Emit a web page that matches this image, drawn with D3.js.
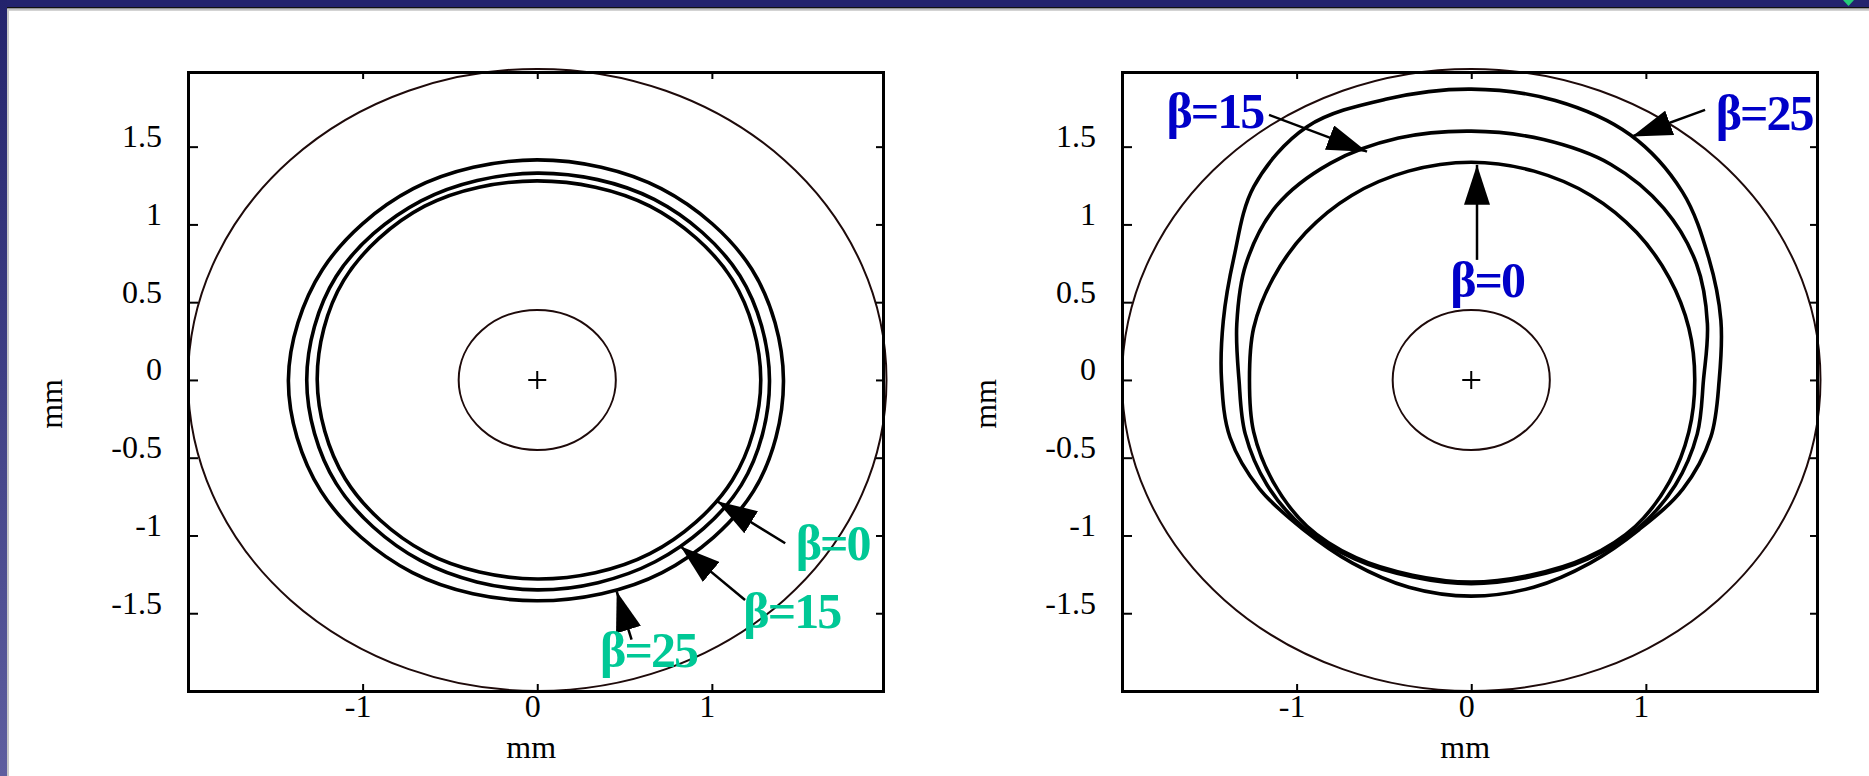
<!DOCTYPE html>
<html>
<head>
<meta charset="utf-8">
<script src="https://cdn.jsdelivr.net/npm/d3@7"></script>
<style>
  body { margin: 0; background: #fff; }
  svg { display: block; }
  .tick text { font-family: "Liberation Serif", "Times New Roman", serif; font-size: 32px; fill: #000; }
</style>
</head>
<body>
<script>
// ticks (mm)
var xTicks = [-1, 0, 1];
var xTickLabels = ["-1", "0", "1"];
var yTicks = [-1.5, -1, -0.5, 0, 0.5, 1, 1.5];
var yTickLabels = ["-1.5", "-1", "-0.5", "0", "0.5", "1", "1.5"];
var betaLabels = ["β=0", "β=15", "β=25"];

// outer aperture and central circle radius, mm
var apertureR = 2.0;
var centerR = 0.45;

// contour radius (mm), read every 30 deg from +x, counterclockwise
var leftBeta0  = [1.28, 1.29, 1.29, 1.28, 1.29, 1.28, 1.26, 1.27, 1.28, 1.28, 1.29, 1.29];
var leftBeta15 = [1.33, 1.34, 1.34, 1.33, 1.33, 1.33, 1.32, 1.33, 1.34, 1.35, 1.35, 1.35];
var leftBeta25 = [1.41, 1.42, 1.42, 1.415, 1.42, 1.42, 1.425, 1.43, 1.43, 1.42, 1.43, 1.43];

// right panel, read every 15 deg
var rightBeta0  = [1.28, 1.29, 1.31, 1.34, 1.37, 1.39, 1.40, 1.39, 1.37, 1.34, 1.31, 1.29,
                   1.27, 1.29, 1.31, 1.33, 1.32, 1.30, 1.30, 1.30, 1.32, 1.33, 1.31, 1.29];
var rightBeta15 = [1.33, 1.40, 1.49, 1.56, 1.60, 1.60, 1.60, 1.61, 1.61, 1.58, 1.49, 1.39,
                   1.33, 1.34, 1.35, 1.35, 1.33, 1.31, 1.31, 1.31, 1.33, 1.35, 1.35, 1.34];
var rightBeta25 = [1.42, 1.48, 1.57, 1.71, 1.82, 1.86, 1.87, 1.87, 1.88, 1.76, 1.57, 1.47,
                   1.43, 1.43, 1.40, 1.36, 1.36, 1.38, 1.39, 1.38, 1.36, 1.36, 1.40, 1.42];

// annotations in mm: arrow tip, arrow tail, label start (β=0, β=15, β=25)
var leftTips   = [[1.03, -0.78], [0.82, -1.07], [0.455, -1.36]];
var leftTails  = [[1.42, -1.05], [1.19, -1.415], [0.54, -1.67]];
var leftLabels = [[1.48, -1.16], [1.18, -1.595], [0.36, -1.846]];
var rightTips   = [[0.033, 1.383], [-0.597, 1.468], [0.921, 1.565]];
var rightTails  = [[0.033, 0.772], [-1.158, 1.704], [1.339, 1.736]];
var rightLabels = [[-0.12, 0.536], [-1.745, 1.621], [1.40, 1.608]];

var W = 1869, H = 776;
var svg = d3.select("body").append("svg").attr("width", W).attr("height", H);
var defs = svg.append("defs");

// slide frame
var grad = defs.append("linearGradient").attr("id", "band").attr("x1", 0).attr("y1", 0).attr("x2", 0).attr("y2", 1);
grad.append("stop").attr("offset", "0%").attr("stop-color", "#23236c");
grad.append("stop").attr("offset", "100%").attr("stop-color", "#5e5e9f");
svg.append("rect").attr("x", 0).attr("y", 0).attr("width", W).attr("height", 7).attr("fill", "#24246e");
svg.append("rect").attr("x", 0).attr("y", 0).attr("width", 7).attr("height", H).attr("fill", "url(#band)");
svg.append("line").attr("x1", 7).attr("x2", W).attr("y1", 7.8).attr("y2", 7.8).attr("stroke", "#111").attr("stroke-width", 1.6);
svg.append("line").attr("x1", 8).attr("x2", W).attr("y1", 9.8).attr("y2", 9.8).attr("stroke", "#c4c4c4").attr("stroke-width", 2);
svg.append("line").attr("x1", 8).attr("x2", 8).attr("y1", 9).attr("y2", H).attr("stroke", "#c8c8c8").attr("stroke-width", 2);
svg.append("path").attr("d", "M1843,0 L1854,0 L1848.5,6 Z").attr("fill", "#25cc78");

defs.append("marker").attr("id", "head")
    .attr("viewBox", "0 0 40 26").attr("refX", 40).attr("refY", 13)
    .attr("markerWidth", 40).attr("markerHeight", 26)
    .attr("markerUnits", "userSpaceOnUse").attr("orient", "auto")
  .append("path").attr("d", "M0,0 L40,13 L0,26 Z").attr("fill", "#000");

function drawPanel(x0, x1, rings, tips, tails, labels, color) {
    var x = d3.scaleLinear().domain([-2, 1.98]).range([x0, x1]);
    var y = d3.scaleLinear().domain([-2, 1.98]).range([691, 72]);
    var g = svg.append("g");

    g.append("ellipse")
        .attr("cx", x(0)).attr("cy", y(0))
        .attr("rx", x(apertureR) - x(0)).attr("ry", y(0) - y(apertureR))
        .attr("fill", "none").attr("stroke", "#1e0a0a").attr("stroke-width", 2);
    g.append("ellipse")
        .attr("cx", x(0)).attr("cy", y(0))
        .attr("rx", x(centerR) - x(0)).attr("ry", y(0) - y(centerR))
        .attr("fill", "none").attr("stroke", "#1e0a0a").attr("stroke-width", 2);
    g.append("path")
        .attr("d", "M" + (x(0) - 9) + "," + y(0) + "h18M" + x(0) + "," + (y(0) - 9) + "v18")
        .attr("stroke", "#000").attr("stroke-width", 2);

    var line = d3.line()
        .x(function(d) { return x(d[0]); })
        .y(function(d) { return y(d[1]); })
        .curve(d3.curveCatmullRomClosed);

    rings.forEach(function(r) {
        var pts = r.map(function(v, i) {
            var a = i * 2 * Math.PI / r.length;
            return [v * Math.cos(a), v * Math.sin(a)];
        });
        g.append("path").attr("d", line(pts))
            .attr("fill", "none").attr("stroke", "#000").attr("stroke-width", 3.6);
    });

    // axes
    var bottom = g.append("g").attr("transform", "translate(0,691)")
        .call(d3.axisBottom(x).tickValues(xTicks).tickSize(-7).tickSizeOuter(0)
            .tickFormat(function(d, i) { return xTickLabels[i]; }));
    bottom.selectAll(".tick text").attr("y", 26).attr("dy", 0).attr("dx", -5);

    var left = g.append("g").attr("transform", "translate(" + x0 + ",0)")
        .call(d3.axisLeft(y).tickValues(yTicks).tickSize(-10).tickSizeOuter(0)
            .tickFormat(function(d, i) { return yTickLabels[i]; }));
    left.selectAll(".tick text").attr("x", -26).attr("dy", 0);

    var top = g.append("g").attr("transform", "translate(0,72)")
        .call(d3.axisTop(x).tickValues(xTicks).tickSize(-7).tickSizeOuter(0).tickFormat(""));
    var right = g.append("g").attr("transform", "translate(" + x1 + ",0)")
        .call(d3.axisRight(y).tickValues(yTicks).tickSize(-7).tickSizeOuter(0).tickFormat(""));

    [bottom, left, top, right].forEach(function(a) {
        a.select(".domain").attr("stroke", "#000").attr("stroke-width", 3).attr("stroke-linecap", "square");
        a.selectAll(".tick line").attr("stroke", "#000").attr("stroke-width", 2);
    });

    g.append("text").attr("x", x(0) - 6).attr("y", 758)
        .attr("text-anchor", "middle")
        .attr("font-family", "Liberation Serif").attr("font-size", 32)
        .text("mm");
    g.append("text")
        .attr("transform", "translate(" + (x0 - 126) + "," + (y(0) + 24) + ") rotate(-90)")
        .attr("text-anchor", "middle")
        .attr("font-family", "Liberation Serif").attr("font-size", 32)
        .text("mm");

    // beta annotations
    tips.forEach(function(t, i) {
        g.append("line")
            .attr("x1", x(tails[i][0])).attr("y1", y(tails[i][1]))
            .attr("x2", x(t[0])).attr("y2", y(t[1]))
            .attr("stroke", "#000").attr("stroke-width", 2.5)
            .attr("marker-end", "url(#head)");
        g.append("text")
            .attr("x", x(labels[i][0])).attr("y", y(labels[i][1]))
            .attr("font-family", "Liberation Serif").attr("font-weight", "bold")
            .attr("font-size", 50).attr("letter-spacing", -2)
            .attr("fill", color)
            .text(betaLabels[i]);
    });
}

drawPanel(188, 883, [leftBeta0, leftBeta15, leftBeta25], leftTips, leftTails, leftLabels, "#00c896");
drawPanel(1122, 1817, [rightBeta0, rightBeta15, rightBeta25], rightTips, rightTails, rightLabels, "#0000c8");
</script>
</body>
</html>
